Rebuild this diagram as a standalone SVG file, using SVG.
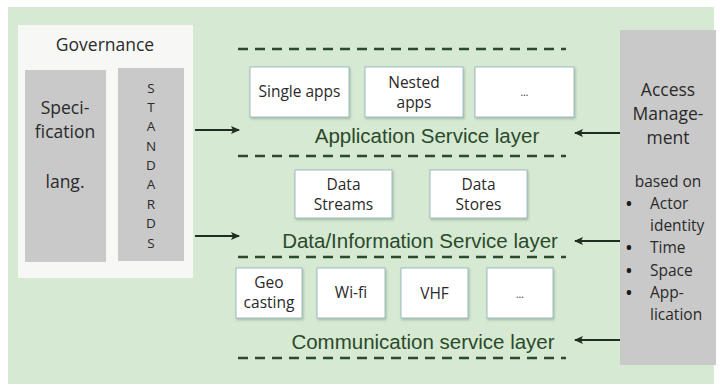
<svg xmlns="http://www.w3.org/2000/svg" width="720" height="387" viewBox="0 0 720 387">
  <defs>
    <marker id="arrow" markerWidth="9" markerHeight="9" refX="8" refY="4.5" orient="auto" markerUnits="userSpaceOnUse">
      <path d="M0,0.5 L9,4.5 L0,8.5 L2,4.5 Z" fill="#1f2e1f"/>
    </marker>
    <filter id="shadow" x="-10%" y="-10%" width="130%" height="130%">
      <feDropShadow dx="1" dy="1.5" stdDeviation="1" flood-color="#6f8a70" flood-opacity="0.5"/>
    </filter>
  </defs>
  <style>
    .panel { fill: #d6e9d2; }
    .gov { fill: #f7f8f6; }
    .grey { fill: #c9c9c9; }
    .box { fill: #ffffff; stroke: #9fbcc6; stroke-width: 1; filter: url(#shadow); }
    .dash { stroke: #2c4a2c; stroke-width: 2.5; stroke-dasharray: 10 7; fill: none; }
    .conn { stroke: #1f2e1f; stroke-width: 2; fill: none; marker-end: url(#arrow); }
    .lbl { font-family: "Open Sans", "Liberation Sans", sans-serif; fill: #2a2a2a; text-anchor: middle; }
    .big { font-size: 17.5px; }
    .small { font-size: 15.5px; }
    .letter { font-size: 13.5px; }
    .bul { font-family: "Open Sans", "Liberation Sans", sans-serif; font-size: 15.5px; fill: #2a2a2a; }
    .dot { fill: #1a1a1a; }
    .layer { font-family: "Liberation Sans", Arial, sans-serif; font-size: 20.5px; fill: #2b4a2b; text-anchor: middle; }
  </style>

  <rect class="panel" x="8" y="7" width="706" height="377"/>

  <!-- dashed layer separators -->
  <g id="separators">
    <line class="dash" x1="238" y1="49" x2="566" y2="49"/>
    <line class="dash" x1="238" y1="156" x2="566" y2="156"/>
    <line class="dash" x1="238" y1="257" x2="566" y2="257"/>
    <line class="dash" x1="238" y1="358" x2="566" y2="358"/>
  </g>

  <!-- governance block -->
  <g id="governance">
    <rect class="gov" x="18" y="25" width="175" height="253"/>
    <text class="lbl big" x="105" y="51">Governance</text>
  </g>
  <g id="spec-lang">
    <rect class="grey" x="25" y="70" width="81" height="192"/>
    <text class="lbl big" x="65" y="114">Speci-</text>
    <text class="lbl big" x="65" y="138">fication</text>
    <text class="lbl big" x="65" y="188">lang.</text>
  </g>
  <g id="standards">
    <rect class="grey" x="118" y="68" width="66" height="193"/>
    <text class="lbl letter" x="151" y="93">S</text>
    <text class="lbl letter" x="151" y="112">T</text>
    <text class="lbl letter" x="151" y="131">A</text>
    <text class="lbl letter" x="151" y="151">N</text>
    <text class="lbl letter" x="151" y="170">D</text>
    <text class="lbl letter" x="151" y="189">A</text>
    <text class="lbl letter" x="151" y="209">R</text>
    <text class="lbl letter" x="151" y="228">D</text>
    <text class="lbl letter" x="151" y="248">S</text>
  </g>

  <!-- application service layer -->
  <g id="single-apps">
    <rect class="box" x="250" y="67" width="99" height="50"/>
    <text class="lbl small" x="299.5" y="97">Single apps</text>
  </g>
  <g id="nested-apps">
    <rect class="box" x="365" y="67" width="98" height="50"/>
    <text class="lbl small" x="414" y="88">Nested</text>
    <text class="lbl small" x="414" y="108">apps</text>
  </g>
  <g id="apps-more">
    <rect class="box" x="475" y="67" width="99" height="50"/>
    <text class="lbl" x="524.5" y="96" style="font-size:10px" fill="#777">…</text>
  </g>
  <text class="layer" x="427" y="143">Application Service layer</text>

  <!-- data / information service layer -->
  <g id="data-streams">
    <rect class="box" x="295" y="170" width="97" height="48"/>
    <text class="lbl small" x="343.5" y="190">Data</text>
    <text class="lbl small" x="343.5" y="210">Streams</text>
  </g>
  <g id="data-stores">
    <rect class="box" x="430" y="170" width="97" height="48"/>
    <text class="lbl small" x="478.5" y="190">Data</text>
    <text class="lbl small" x="478.5" y="210">Stores</text>
  </g>
  <text class="layer" x="420" y="248">Data/Information Service layer</text>

  <!-- communication service layer -->
  <g id="geo-casting">
    <rect class="box" x="236" y="268" width="66" height="50"/>
    <text class="lbl small" x="269" y="288">Geo</text>
    <text class="lbl small" x="269" y="308">casting</text>
  </g>
  <g id="wifi">
    <rect class="box" x="317" y="268" width="68" height="50"/>
    <text class="lbl small" x="351" y="298">Wi-fi</text>
  </g>
  <g id="vhf">
    <rect class="box" x="401" y="268" width="67" height="50"/>
    <text class="lbl small" x="434.5" y="299">VHF</text>
  </g>
  <g id="comm-more">
    <rect class="box" x="487" y="268" width="66" height="50"/>
    <text class="lbl" x="520" y="298" style="font-size:10px" fill="#777">…</text>
  </g>
  <text class="layer" x="423" y="349">Communication service layer</text>

  <!-- access management block -->
  <g id="access-management">
    <rect class="grey" x="620" y="30" width="96" height="335"/>
    <text class="lbl big" x="668" y="96">Access</text>
    <text class="lbl big" x="668" y="120">Manage-</text>
    <text class="lbl big" x="668" y="144">ment</text>
    <text class="lbl small" x="668" y="187">based on</text>
    <g class="bul">
      <text x="650" y="209">Actor</text>
      <text x="650" y="231">identity</text>
      <text x="650" y="253">Time</text>
      <text x="650" y="276">Space</text>
      <text x="650" y="298">App-</text>
      <text x="650" y="320">lication</text>
    </g>
    <g class="bul" font-weight="bold">
      <text class="dot" x="626" y="209">•</text>
      <text class="dot" x="626" y="253">•</text>
      <text class="dot" x="626" y="276">•</text>
      <text class="dot" x="626" y="298">•</text>
    </g>
  </g>

  <!-- connectors -->
  <g id="connectors">
    <line class="conn" x1="195" y1="130" x2="239" y2="130"/>
    <line class="conn" x1="195" y1="236" x2="239" y2="236"/>
    <line class="conn" x1="620" y1="133" x2="575" y2="133"/>
    <line class="conn" x1="620" y1="241" x2="575" y2="241"/>
    <line class="conn" x1="620" y1="340" x2="575" y2="340"/>
  </g>
</svg>
